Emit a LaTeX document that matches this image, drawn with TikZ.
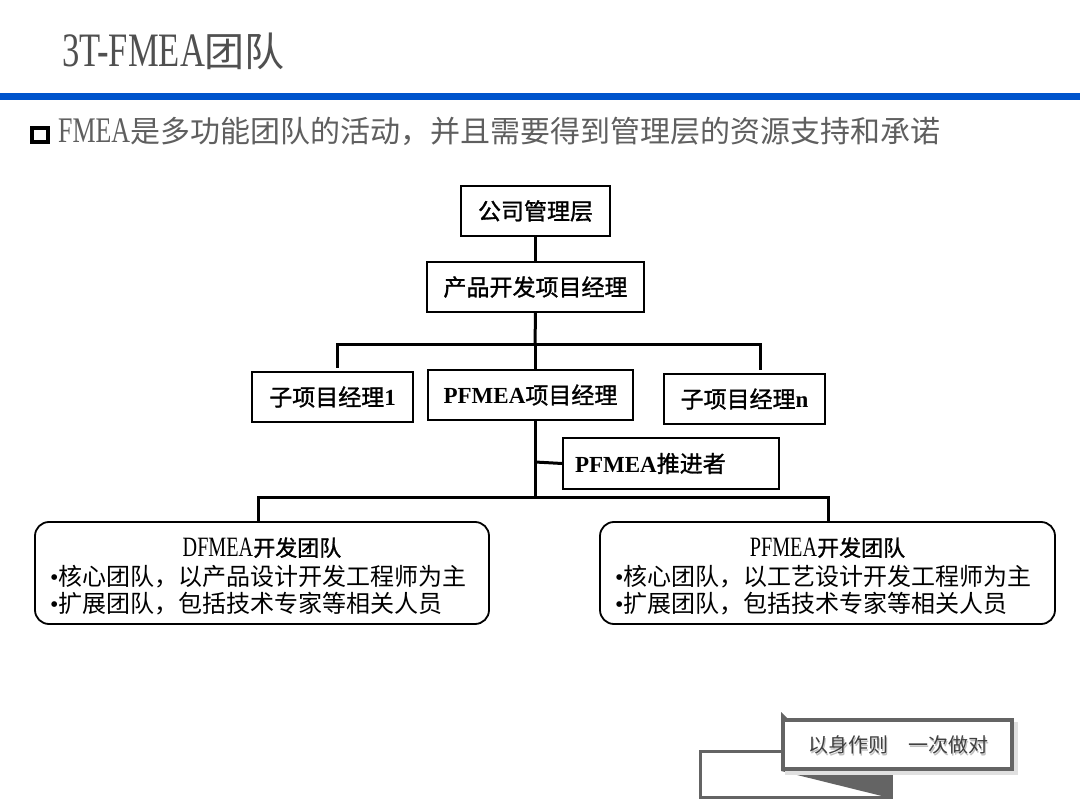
\documentclass[tikz,border=0pt]{standalone}
\usepackage{fontspec}
\setmainfont{Liberation Serif}
\newfontfamily\cjk{Noto Sans CJK SC}
\newfontfamily\cjkm[FakeBold=1.2]{Noto Sans CJK SC}
\newfontfamily\latc[FakeStretch=0.72]{Liberation Serif}
\definecolor{titlegray}{RGB}{80,80,80}
\definecolor{subgray}{RGB}{95,95,95}
\definecolor{bandblue}{RGB}{0,84,204}
\definecolor{ribbongray}{RGB}{100,100,100}
\begin{document}
\begin{tikzpicture}[x=1pt,y=-1pt,
  box/.style={draw, line width=1.6pt, fill=white, inner sep=0pt, minimum height=50pt,
    font=\bfseries\fontsize{23}{26}\selectfont},
  conn/.style={line width=3pt},
  team/.style={draw, line width=1.8pt, rounded corners=14pt, fill=white, inner sep=0pt,
    minimum width=454pt, minimum height=102pt},
  teamline/.style={anchor=base west, inner sep=0pt, font=\fontsize{24}{26}\selectfont}
]
\useasboundingbox (0,0) rectangle (1080,810);
\fill[white] (0,0) rectangle (1080,810);
% title
\node[anchor=base west, inner sep=0pt, text=titlegray] (title) at (62,67)
  {{\latc\fontsize{48}{50}\selectfont 3T-FMEA}{\cjk\fontsize{40}{44}\selectfont 团队}};
\fill[bandblue] (0,93) rectangle (1080,100);
% subtitle
\draw[line width=4pt] (32,128) rectangle (48,142);
\node[anchor=base west, inner sep=0pt, text=subgray] (sub) at (58,143)
  {{\latc\fontsize{36}{38}\selectfont FMEA}{\cjk\fontsize{30}{32}\selectfont 是多功能团队的活动，并且需要得到管理层的资源支持和承诺}};
% org boxes
\node[box, minimum width=149pt] (top) at (535.5,211) {{\cjkm\mdseries 公司管理层}};
\node[box, minimum width=217pt] (pm) at (535.5,287) {{\cjkm\mdseries 产品开发项目经理}};
\coordinate (h1) at (535,345);
\coordinate (lt) at (337,368);
\coordinate (ltc) at (337,345);
\coordinate (rt) at (760,370);
\coordinate (rtc) at (760,345);
\coordinate (h2) at (535,497);
\coordinate (br) at (535,462);
\coordinate (dl) at (258,523);
\coordinate (dlc) at (258,497);
\coordinate (pr) at (828,523);
\coordinate (prc) at (828,497);
\draw[conn] (top.south) -- (pm.north);
\draw[conn] (pm.south) -- (h1);
\draw[conn] (lt) -- (ltc) -- (rtc) -- (rt);
\draw[conn] (h1) -- (h2);
\draw[conn] (dl) -- (dlc) -- (prc) -- (pr);
\node[box, minimum width=161pt] (sub1) at (332.5,397) {{\cjkm\mdseries 子项目经理}1};
\node[box, minimum width=205pt] (pfm) at (530.5,395) {PFMEA{\cjkm\mdseries 项目经理}};
\node[box, minimum width=161pt] (subn) at (744.5,399) {{\cjkm\mdseries 子项目经理}n};
\node[box, text width=192pt, inner xsep=12pt, align=left, minimum height=51pt] (tui) at (671,463.5) {PFMEA{\cjkm\mdseries 推进者}};
\draw[conn] (br) -- (tui.west);
% teams
\node[team] (dt) at (262,573) {};
\node[team, minimum width=455pt] (pt) at (827.5,573) {};
\node[anchor=base, inner sep=0pt] (dtt) at (262,556)
  {{\latc\fontsize{28}{30}\selectfont DFMEA}{\cjkm\fontsize{22}{24}\selectfont 开发团队}};
\node[teamline] (d1) at (50,585) {•{\cjk 核心团队，以产品设计开发工程师为主}};
\node[teamline] (d2) at (50,612) {•{\cjk 扩展团队，包括技术专家等相关人员}};
\node[anchor=base, inner sep=0pt] (ptt) at (827.5,556)
  {{\latc\fontsize{28}{30}\selectfont PFMEA}{\cjkm\fontsize{22}{24}\selectfont 开发团队}};
\node[teamline] (p1) at (615,585) {•{\cjk 核心团队，以工艺设计开发工程师为主}};
\node[teamline] (p2) at (615,612) {•{\cjk 扩展团队，包括技术专家等相关人员}};
% ribbon
\draw[ribbongray, line width=3pt, fill=white] (700,751) rectangle (891,797);
\fill[ribbongray] (781,771) -- (892,771) -- (892,798.5) -- cycle;
\fill[black!12] (785,722) rectangle (1018,775);
\draw[ribbongray, line width=4pt, fill=white] (783,720) rectangle (1012,769);
\fill[ribbongray] (781,712) -- (787,718) -- (781,718) -- cycle;
\node[text=black!25, inner sep=0pt, font=\cjk\fontsize{20}{22}\selectfont] at (899.5,746.5) {以身作则　一次做对};
\node[text=black!75, inner sep=0pt, font=\cjk\fontsize{20}{22}\selectfont] (motto) at (898,745) {以身作则　一次做对};
\end{tikzpicture}
\end{document}
